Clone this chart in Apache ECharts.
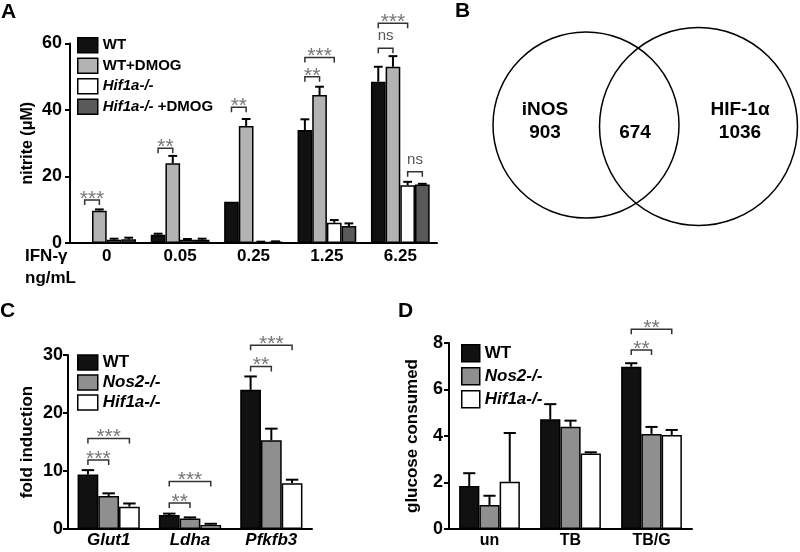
<!DOCTYPE html>
<html><head><meta charset="utf-8">
<script src="https://cdn.jsdelivr.net/npm/echarts@6/dist/echarts.min.js"></script>
<style>html,body{margin:0;padding:0;background:#fff}#c{width:800px;height:552px}</style>
</head><body><div id="c"></div>
<script>
const FONT = "'Liberation Sans', Arial, Helvetica, sans-serif";

// ---------- Panel A data ----------
const catsA = ['0', '0.05', '0.25', '1.25', '6.25'];
const namesA = ['WT', 'WT+DMOG', 'Hif1a-/-', 'Hif1a-/- +DMOG'];
const colorsA = ['#111111', '#b3b3b3', '#ffffff', '#5a5a5a'];
const aWT        = [0.1, 2.5, 12.4, 34.0, 48.5];
const aWTErr     = [0, 0.3, 0, 3.2, 4.5];
const aDMOG      = [9.7, 24.0, 35.2, 44.5, 53.0];
const aDMOGErr   = [0.4, 2.2, 2.1, 2.5, 3.2];
const aHif       = [1.0, 1.0, 0.3, 6.1, 17.4];
const aHifErr    = [0.3, 0.2, 0.1, 0.8, 1.0];
const aHifDMOG   = [1.1, 1.0, 0.4, 5.1, 17.6];
const aHifDMOGErr= [0.5, 0.3, 0.1, 0.8, 0.2];
// [category, fromBar, toBar, y, label]
const bracketsA = [
  [0, 0, 1, 12.9, '***'], [1, 0, 1, 28.5, '**'], [2, 0, 1, 40.8, '**'],
  [3, 0, 1, 50.0, '**'], [3, 0, 2, 55.8, '***'],
  [4, 0, 1, 58.6, 'ns'], [4, 0, 2, 66.1, '***'], [4, 2, 3, 21.4, 'ns']
];
const ticksA = [0, 20, 40, 60];

// ---------- Panel B data ----------
const vennNames = ['iNOS', 'HIF-1\u03b1'];
const vennCounts = [903, 674, 1036];

// ---------- Panel C data ----------
const catsC = ['Glut1', 'Ldha', 'Pfkfb3'];
const namesC = ['WT', 'Nos2-/-', 'Hif1a-/-'];
const colorsC = ['#111111', '#8f8f8f', '#ffffff'];
const cWT = [9.4, 2.4, 24.0];
const cWTErr = [0.75, 0.25, 2.3];
const cNos2 = [5.7, 1.8, 15.3];
const cNos2Err = [0.45, 0.2, 2.0];
const cHif = [3.85, 0.7, 7.9];
const cHifErr = [0.55, 0.2, 0.6];
const bracketsC = [
  [0, 0, 1, 11.9, '***'], [0, 0, 2, 15.6, '***'],
  [1, 0, 1, 4.5, '**'], [1, 0, 2, 8.2, '***'],
  [2, 0, 1, 28.0, '**'], [2, 0, 2, 31.7, '***']
];
const ticksC = [0, 10, 20, 30];

// ---------- Panel D data ----------
const catsD = ['un', 'TB', 'TB/G'];
const namesD = ['WT', 'Nos2-/-', 'Hif1a-/-'];
const colorsD = ['#111111', '#8f8f8f', '#ffffff'];
const dWT = [1.85, 4.72, 6.98];
const dWTErr = [0.55, 0.65, 0.15];
const dNos2 = [1.03, 4.4, 4.09];
const dNos2Err = [0.4, 0.26, 0.3];
const dHif = [2.03, 3.25, 4.04];
const dHifErr = [2.1, 0.05, 0.22];
const bracketsD = [[2, 0, 1, 7.7, '**'], [2, 0, 2, 8.59, '**']];
const ticksD = [0, 2, 4, 6, 8];

// ---------- builders ----------
const series = [];
function addPanel(key, gi, names, colors, values, errors, frac, brackets) {
  const n = names.length;
  names.forEach((nm, k) => {
    series.push({
      type: 'bar', name: key + ':' + nm, xAxisIndex: gi, yAxisIndex: gi,
      data: values[k], barWidth: (frac * 100) + '%', barGap: '0%',
      itemStyle: { color: colors[k], borderColor: '#000', borderWidth: 1.5 },
      emphasis: { disabled: true }, z: 2
    });
  });
  const errData = [];
  values.forEach((vals, k) => vals.forEach((v, c) => errData.push([c, v, k, errors[k][c]])));
  series.push({
    type: 'custom', xAxisIndex: gi, yAxisIndex: gi, clip: false, z: 3,
    encode: { x: 0, y: 1 }, data: errData, silent: true,
    renderItem: function (params, api) {
      const c = api.value(0), v = api.value(1), k = api.value(2), e = api.value(3);
      if (!(e > 0)) return null;
      const bw = api.size([1, 0])[0] * frac;
      const p0 = api.coord([c, v]);
      const p1 = api.coord([c, v + e]);
      const x = p0[0] + (k - (n - 1) / 2) * bw;
      const cap = bw * 0.3;
      return { type: 'group', children: [
        { type: 'line', shape: { x1: x, y1: p0[1], x2: x, y2: p1[1] }, style: { stroke: '#000', lineWidth: 2 } },
        { type: 'line', shape: { x1: x - cap, y1: p1[1], x2: x + cap, y2: p1[1] }, style: { stroke: '#000', lineWidth: 2 } }
      ] };
    }
  });
  series.push({
    type: 'custom', xAxisIndex: gi, yAxisIndex: gi, clip: false, z: 4, silent: true,
    encode: { x: 0, y: 1 }, data: brackets.map(b => [b[0], b[3]]),
    renderItem: function (params, api) {
      const b = brackets[params.dataIndex];
      const bw = api.size([1, 0])[0] * frac;
      const p = api.coord([b[0], b[3]]);
      const x1 = p[0] + (b[1] - (n - 1) / 2) * bw;
      const x2 = p[0] + (b[2] - (n - 1) / 2) * bw;
      const y = p[1];
      const isNs = b[4] === 'ns';
      return { type: 'group', children: [
        { type: 'polyline', shape: { points: [[x1, y + 5], [x1, y], [x2, y], [x2, y + 5]] },
          style: { stroke: '#333', lineWidth: 1.5, fill: null } },
        { type: 'text', x: (x1 + x2) / 2, y: isNs ? y - 12 : y - 1,
          style: { text: b[4], textAlign: 'center', textVerticalAlign: 'middle',
                   font: (isNs ? '15px ' : '21px ') + FONT, fill: isNs ? '#555' : '#777' } }
      ] };
    }
  });
}

addPanel('A', 0, namesA, colorsA, [aWT, aDMOG, aHif, aHifDMOG], [aWTErr, aDMOGErr, aHifErr, aHifDMOGErr], 0.20, bracketsA);
addPanel('C', 1, namesC, colorsC, [cWT, cNos2, cHif], [cWTErr, cNos2Err, cHifErr], 0.255, bracketsC);
addPanel('D', 2, namesD, colorsD, [dWT, dNos2, dHif], [dWTErr, dNos2Err, dHifErr], 0.25, bracketsD);

function xAx(gi, cats, italic, size, margin) {
  return { type: 'category', gridIndex: gi, data: cats,
    axisLine: { lineStyle: { color: '#000', width: 2 } }, axisTick: { show: false },
    axisLabel: { color: '#000', fontWeight: 'bold', fontStyle: italic ? 'italic' : 'normal',
      fontSize: size, fontFamily: FONT, margin: margin, interval: 0 } };
}
function yAx(gi, ticks, name, nameGap, nameSize, margin) {
  return { type: 'value', gridIndex: gi, min: ticks[0], max: ticks[ticks.length - 1],
    interval: ticks[1] - ticks[0], name: name, nameLocation: 'middle', nameGap: nameGap,
    nameRotate: 90,
    nameTextStyle: { color: '#000', fontWeight: 'bold', fontSize: nameSize, fontFamily: FONT },
    axisLine: { show: true, lineStyle: { color: '#000', width: 2 } },
    axisTick: { show: true, inside: false, length: 5, lineStyle: { color: '#000', width: 2 } },
    splitLine: { show: false },
    axisLabel: { color: '#000', fontWeight: 'bold', fontSize: 18, fontFamily: FONT, margin: margin } };
}

function legendFmt(name) {
  const s = name.slice(2);
  const m = s.match(/^(Hif1a-\/-|Nos2-\/-)(.*)$/);
  if (m) return '{i|' + m[1] + '}' + (m[2] ? '{b|' + m[2] + '}' : '');
  return '{b|' + s + '}';
}
function legend(key, names, left, top, iw, ih, gap, fs) {
  return { show: true, orient: 'vertical', left: left, top: top, itemWidth: iw, itemHeight: ih,
    itemGap: gap, icon: 'rect', selectedMode: false, data: names.map(n => key + ':' + n),
    formatter: legendFmt, padding: 0,
    itemStyle: { borderColor: '#000', borderWidth: 1.5 },
    textStyle: { color: '#000', fontSize: fs, fontFamily: FONT, fontWeight: 'bold',
      rich: { i: { fontStyle: 'italic', fontWeight: 'bold', fontSize: fs, fontFamily: FONT, color: '#000' },
              b: { fontWeight: 'bold', fontSize: fs, fontFamily: FONT, color: '#000' } } } };
}

function txt(t, x, y, size, extra) {
  return Object.assign({ type: 'text', x: x, y: y,
    style: { text: t, font: 'bold ' + size + 'px ' + FONT, fill: '#000', textAlign: 'left', textVerticalAlign: 'middle' } }, extra || {});
}

const graphic = [
  txt('A', 1, 12, 21), txt('B', 455, 11, 21), txt('C', 0, 311, 21), txt('D', 398, 311, 21),
  txt('IFN-\u03b3', 25, 256, 17), txt('ng/mL', 25, 278, 17),
  { type: 'circle', shape: { cx: 586, cy: 125, r: 93 }, style: { fill: 'none', stroke: '#000', lineWidth: 1.5 } },
  { type: 'circle', shape: { cx: 698.5, cy: 126.5, r: 99 }, style: { fill: 'none', stroke: '#000', lineWidth: 1.5 } },
  { type: 'text', x: 545, y: 110, style: { text: vennNames[0], font: 'bold 19px ' + FONT, fill: '#000', textAlign: 'center', textVerticalAlign: 'middle' } },
  { type: 'text', x: 545, y: 133, style: { text: String(vennCounts[0]), font: 'bold 19px ' + FONT, fill: '#000', textAlign: 'center', textVerticalAlign: 'middle' } },
  { type: 'text', x: 635, y: 133, style: { text: String(vennCounts[1]), font: 'bold 19px ' + FONT, fill: '#000', textAlign: 'center', textVerticalAlign: 'middle' } },
  { type: 'text', x: 740, y: 110, style: { text: vennNames[1], font: 'bold 19px ' + FONT, fill: '#000', textAlign: 'center', textVerticalAlign: 'middle' } },
  { type: 'text', x: 740, y: 133, style: { text: String(vennCounts[2]), font: 'bold 19px ' + FONT, fill: '#000', textAlign: 'center', textVerticalAlign: 'middle' } }
];

const option = {
  animation: false,
  backgroundColor: '#fff',
  grid: [
    { left: 70, top: 43.5, width: 367, height: 199.5 },
    { left: 68, top: 355, width: 244, height: 174 },
    { left: 449, top: 343, width: 243, height: 186 }
  ],
  xAxis: [xAx(0, catsA, false, 17, 5), xAx(1, catsC, true, 17, 3), xAx(2, catsD, false, 16, 4)],
  yAxis: [yAx(0, ticksA, 'nitrite (\u03bcM)', 34, 16, 8), yAx(1, ticksC, 'fold induction', 32, 17, 5), yAx(2, ticksD, 'glucose consumed', 28, 17, 6)],
  legend: [
    legend('A', namesA, 77, 37, 20, 15, 4, 15),
    legend('C', namesC, 77, 354, 20, 15, 3, 17),
    legend('D', namesD, 461, 344, 18, 17, 4.5, 17)
  ],
  graphic: graphic,
  series: series
};
const chart = echarts.init(document.getElementById('c'), null, { renderer: 'canvas' });
chart.setOption(option);
</script></body></html>
